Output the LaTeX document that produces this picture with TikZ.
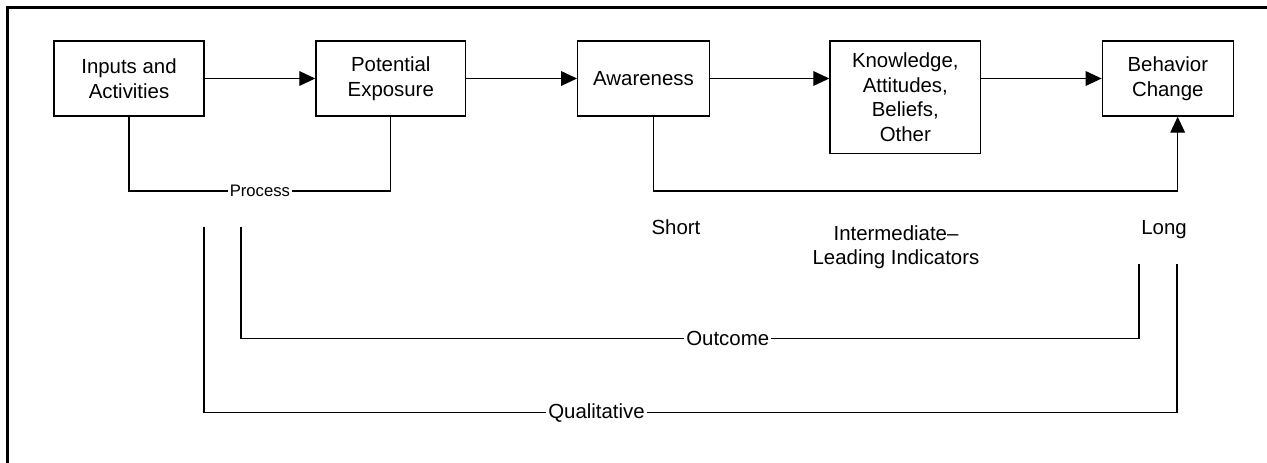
\documentclass[tikz,border=0pt]{standalone}
\usepackage{fontspec}
\setmainfont{Liberation Sans}
\usetikzlibrary{arrows.meta}

\tikzset{
  blk/.style={draw, line width=1pt, align=center, inner sep=0pt},
  lbl/.style={fill=white, inner sep=1.5pt},
  arr/.style={-{Triangle[length=12pt,width=11pt]}},
  smalltxt/.style={font=\fontsize{12.5}{15}\selectfont}
}

\begin{document}
\begin{tikzpicture}[x=0.75pt,y=0.75pt,yscale=-1,xscale=1, line width=1pt, font=\fontsize{15.3}{18.4}\selectfont]
    \useasboundingbox (0,0) rectangle (1267,463);

    %Frame
    \draw [line width=2.6pt] (7.5,463) -- (7.5,7.5) -- (1267,7.5);

    % Boxes
    \node [blk, minimum width=112.5pt, minimum height=56.3pt] (inputs) at (129,78.5) {Inputs and\\Activities};
    \node [blk, minimum width=112.3pt, minimum height=56.3pt] (exposure) at (390.8,78.5) {Potential\\Exposure};
    \node [blk, minimum width=98.7pt, minimum height=56.3pt] (awareness) at (643.5,78.5) {Awareness};
    \node [blk, minimum width=113pt, minimum height=84.2pt] (kabo) at (905.3,97.2) {Knowledge,\\Attitudes,\\Beliefs,\\Other};
    \node [blk, minimum width=98.3pt, minimum height=56.3pt] (behavior) at (1167.8,78.5) {Behavior\\Change};

    % Text Node
    \node [anchor=base] (short) at (676,235) {Short};
    % Text Node
    \node [align=center] (inter) at (896,247) {Intermediate–\\Leading Indicators};
    % Text Node
    \node [anchor=base] (long) at (1164,235) {Long};

    %Straight Lines
    \draw [arr] (inputs.east) -- (exposure.west);
    \draw [arr] (exposure.east) -- (awareness.west);
    \draw [arr] (awareness.east) -- (awareness.east -| kabo.west);
    \draw [arr] (kabo.east |- behavior.west) -- (behavior.west);
    \draw [arr] ([xshift=7.4pt]awareness.south) -- ++(0,74.3) -| ([xshift=7.4pt]behavior.south);

    % Process
    \draw (inputs.south) -- ++(0,74.3) -| node [lbl, smalltxt, pos=0.25] {Process} (exposure.south);

    % Outcome
    \coordinate (outtop) at (241,226.7);
    \coordinate (outend) at (1139,264);
    \draw (outtop) -- ++(0,111.6) -| node [lbl, pos=0.271] {Outcome} (outend);

    % Qualitative
    \coordinate (qualtop) at (204,226.7);
    \coordinate (qualend) at (1177,264);
    \draw (qualtop) -- ++(0,186) -| node [lbl, pos=0.2017] {Qualitative} (qualend);
\end{tikzpicture}
\end{document}
